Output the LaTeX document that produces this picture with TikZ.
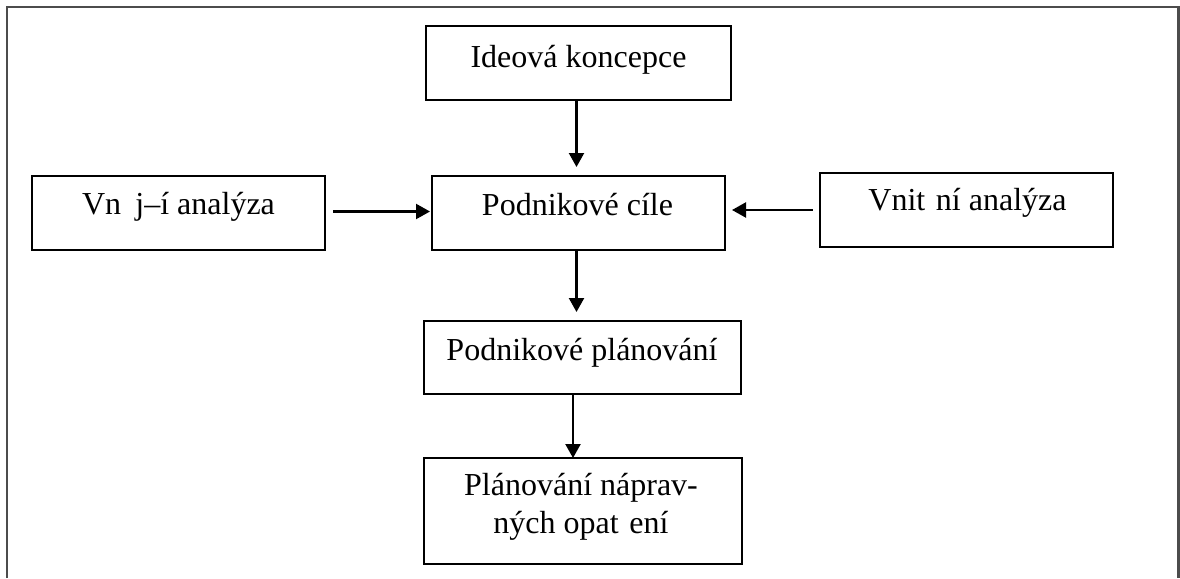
\documentclass[tikz,border=0pt]{standalone}
\usepackage{fontspec}
\setmainfont{Liberation Serif}
\usetikzlibrary{arrows.meta,calc}
\begin{document}
\begin{tikzpicture}[x=1pt,y=-1pt,
  box/.style={draw=black, line width=2pt, inner sep=0pt, outer sep=0pt},
  txt/.style={font=\fontsize{32}{38}\selectfont, inner sep=0pt, anchor=base},
  arr/.style={-{Triangle[width=15pt,length=14pt]}, line width=2.2pt},
  frameline/.style={draw=black!70, line width=2.2pt}]
\useasboundingbox (0,0) rectangle (1180,578);

% open frame round the chart
\draw[frameline] (7,578) -- (7,7) -- (1178.5,7) -- (1178.5,578);

% boxes
\node[box, minimum width=305pt, minimum height=74pt] (ideo) at (578.5,63) {};
\node[box, minimum width=293pt, minimum height=74pt] (cile) at (578.5,213) {};
\node[box, minimum width=293pt, minimum height=74pt] (vnejsi) at (178.5,213) {};
\node[box, minimum width=293pt, minimum height=74pt] (vnitrni) at (966.5,210) {};
\node[box, minimum width=317pt, minimum height=73pt] (plan) at (582.5,357.5) {};
\node[box, minimum width=318pt, minimum height=106pt] (naprav) at (583,511) {};

% box texts
\node[txt] (ideo-t) at (578.5,67) {Ideová koncepce};
\node[txt] (cile-t) at (577.5,215) {Podnikové cíle};
\node[txt] (vnejsi-t) at (178.5,214) {Vn\hspace{0.444em}j–í analýza};
\node[txt] (vnitrni-t) at (967.5,210) {Vnit\hspace{0.333em}ní analýza};
\node[txt] (plan-t) at (582,360) {Podnikové plánování};
\node[txt, anchor=center, align=center] (naprav-t) at (581,506.5)
  {Plánování náprav-\\ných opat\hspace{0.333em}ení};

% connectors
\draw[arr, shorten >=9pt] ($(ideo.south)+(-2,0)$) -- ($(ideo.south |- cile.north)+(-2,0)$);
\draw[arr, shorten >=9pt] ($(cile.south)+(-2,0)$) -- ($(cile.south |- plan.north)+(-2,0)$);
\draw[arr] ($(plan.south)+(-9.5,0)$) -- ($(plan.south |- naprav.north)+(-9.5,0)$);
\draw[arr, shorten <=8pt, shorten >=2pt] ($(vnejsi.east)+(0,-1.5)$) -- ($(vnejsi.east -| cile.west)+(0,-1.5)$);
\draw[arr, shorten <=7.5pt, shorten >=7pt] (vnitrni.west) -- (vnitrni.west -| cile.east);
\end{tikzpicture}
\end{document}
